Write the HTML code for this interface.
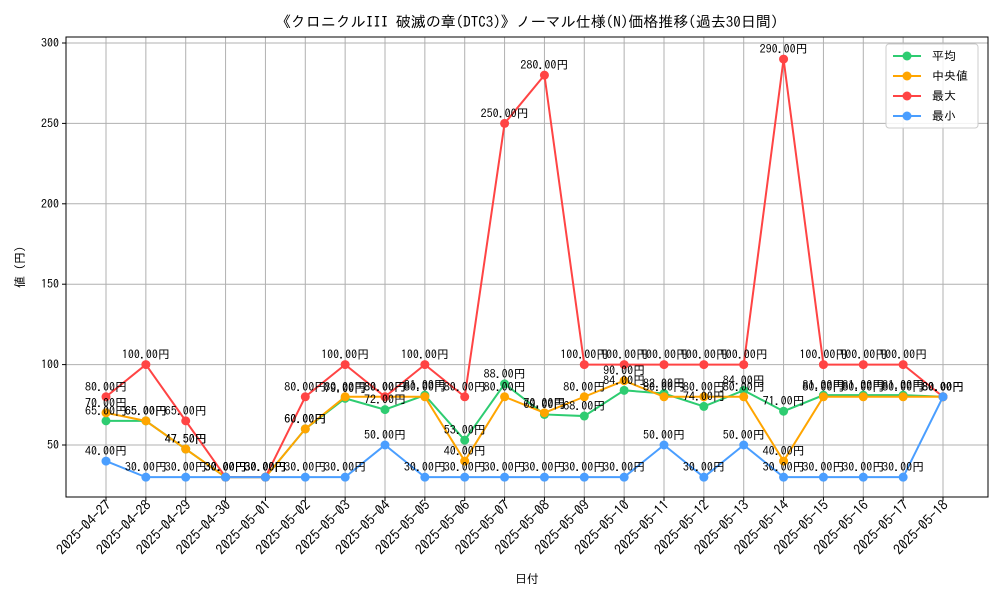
<!DOCTYPE html>
<html><head><meta charset="utf-8"><style>
body{margin:0;background:#fff}
svg text{font-family:"IPAGothic","Liberation Sans","Noto Sans CJK JP",sans-serif}
</style></head><body>
<svg id="c" width="1000" height="600" xmlns="http://www.w3.org/2000/svg"></svg>
<script>
const dates=["2025-04-27","2025-04-28","2025-04-29","2025-04-30","2025-05-01","2025-05-02","2025-05-03","2025-05-04","2025-05-05","2025-05-06","2025-05-07","2025-05-08","2025-05-09","2025-05-10","2025-05-11","2025-05-12","2025-05-13","2025-05-14","2025-05-15","2025-05-16","2025-05-17","2025-05-18"];
const avgVals=[65,65,47.5,30,30,60,79,72,81,53,88,69,68,84,82,74,84,71,81,81,81,80];
const medVals=[70,65,47.5,30,30,60,80,80,80,40,80,70,80,90,80,80,80,40,80,80,80,80];
const maxVals=[80,100,65,30,30,80,100,80,100,80,250,280,100,100,100,100,100,290,100,100,100,80];
const minVals=[40,30,30,30,30,30,30,50,30,30,30,30,30,30,50,30,50,30,30,30,30,80];
const yTicks=[50,100,150,200,250,300];
const seriesNames=["平均","中央値","最大","最小"];
const colors=["#2ecc71","#ffa500","#ff4444","#4a9eff"];
const svg=document.getElementById('c');const NS="http://www.w3.org/2000/svg";
function el(t,a,p){const e=document.createElementNS(NS,t);for(const k in a)e.setAttribute(k,a[k]);(p||svg).appendChild(e);return e;}
const L=66,R=988,T=37,B=497;
const x=i=>106+i*(943-106)/(dates.length-1);
const y=v=>445-(v-50)*(402/250);
const title=el('text',{x:527,y:27,'text-anchor':'middle','font-size':15});title.textContent="《クロニクルIII 破滅の章(DTC3)》ノーマル仕様(N)価格推移(過去30日間)";

const g=el('g',{});
dates.forEach((d,i)=>{el('line',{x1:x(i),x2:x(i),y1:T,y2:B,stroke:'#b0b0b0','stroke-width':1},g);
 el('line',{x1:x(i),x2:x(i),y1:B,y2:B+4,stroke:'#000'});
 const t=el('text',{x:0,y:0,'font-size':14,'text-anchor':'end',transform:`translate(${x(i)+6},${B+9}) rotate(-45)`});t.textContent=d;
 });
yTicks.forEach(v=>{el('line',{x1:L,x2:R,y1:y(v),y2:y(v),stroke:'#b0b0b0','stroke-width':1},g);
 el('line',{x1:L-4,x2:L,y1:y(v),y2:y(v),stroke:'#000'});
 const t=el('text',{x:L-7,y:y(v)+4,'font-size':12,'text-anchor':'end'});t.textContent=v;
 });
const fr=el('rect',{x:L,y:T,width:R-L,height:B-T,fill:'none',stroke:'#000'});
const xt=el('text',{x:527,y:583,'font-size':12,'text-anchor':'middle'});xt.textContent="日付";
const yt=el('text',{x:0,y:0,'font-size':12,'text-anchor':'middle',transform:'translate(24,267) rotate(-90)'});yt.textContent="値 (円)";
const all=[avgVals,medVals,maxVals,minVals];
all.forEach((vals,s)=>{const sg=el('g',{});
 el('polyline',{points:vals.map((v,i)=>x(i)+','+y(v)).join(' '),fill:'none',stroke:colors[s],'stroke-width':2},sg);
 vals.forEach((v,i)=>{const c=el('circle',{cx:x(i),cy:y(v),r:4.5,fill:colors[s]},sg);});});
all.forEach((vals,s)=>{vals.forEach((v,i)=>{const t=el('text',{x:x(i),y:y(v)-6,'font-size':12,'text-anchor':'middle'});t.textContent=v.toFixed(2)+"円";
 });});
const lg=el('g',{});
el('rect',{x:886,y:44,width:92,height:84,rx:3,fill:'#fff','fill-opacity':0.85,stroke:'#ccc'},lg);
seriesNames.forEach((n,s)=>{const yy=56+s*20;const e=el('g',{},lg);
 el('line',{x1:893,x2:921,y1:yy,y2:yy,stroke:colors[s],'stroke-width':2},e);el('circle',{cx:907,cy:yy,r:4.5,fill:colors[s]},e);
 const t=el('text',{x:932,y:yy+4,'font-size':12},e);t.textContent=n;});
</script></body></html>
